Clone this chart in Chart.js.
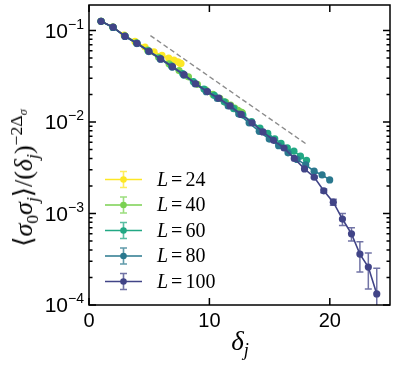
<!DOCTYPE html>
<html>
<head>
<meta charset="utf-8">
<script src="https://cdn.jsdelivr.net/npm/chart.js@4.4.1/dist/chart.umd.min.js"></script>
<style>
  html, body { margin: 0; padding: 0; background: #fff; }
  #wrap { position: relative; width: 398px; height: 367px; }
  canvas { display: block; }
  .ttl { position: absolute; font-family: 'Liberation Serif', 'DejaVu Serif', serif; white-space: nowrap; color: #000; line-height: 1; }
  .ttl sub, .ttl sup { font-size: 0.68em; line-height: 0; }
  #ytitle { left: 24px; top: 178px; font-size: 26px; transform: translate(-50%, -50%) rotate(-90deg); }
  #xtitle { left: 240px; top: 341px; font-size: 27px; transform: translate(-50%, -50%); }
</style>
</head>
<body>
<div id="wrap">
  <canvas id="chart" width="398" height="367"></canvas>
  <div id="ytitle" class="ttl">⟨<i>σ</i><sub>0</sub><i>σ</i><sub><i>j</i></sub>⟩/(<i>δ</i><sub><i>j</i></sub>)<sup>−2Δ<sub><i>σ</i></sub></sup></div>
  <div id="xtitle" class="ttl"><i>δ</i><sub><i>j</i></sub></div>
</div>
<script>
// Correlator vs chord distance, five system sizes

const sizes = [24, 40, 60, 80, 100];
const colors = ['#fde725', '#7ad151', '#22a884', '#2a788e', '#414487'];

const dL24 = [1.0, 1.98, 2.92, 3.82, 4.65, 5.4, 6.06, 6.62, 7.06, 7.38, 7.57, 7.64];
const vL24 = [0.126, 0.109, 0.089, 0.076, 0.066, 0.0585, 0.0535, 0.050, 0.0475, 0.0455, 0.0440, 0.0435];

const dL40 = [1.0, 1.99, 2.97, 3.93, 4.87, 5.78, 6.65, 7.48, 8.26, 9.0, 9.68, 10.3, 10.86, 11.34, 11.76, 12.1, 12.37, 12.57, 12.69, 12.73];
const vL40 = [0.126, 0.109, 0.087, 0.0735, 0.061, 0.051, 0.0432, 0.0365, 0.0312, 0.0258, 0.0224, 0.0200, 0.0181, 0.0165, 0.0153, 0.0142, 0.0134, 0.0129, 0.0127, 0.0126];

const dL60 = [1.0, 2.0, 2.99, 3.97, 4.94, 5.9, 6.85, 7.78, 8.67, 9.55, 10.41, 11.23, 12.02, 12.78, 13.5, 14.2, 14.85, 15.43, 15.95, 16.47, 17.02, 17.56, 18.07];
const vL60 = [0.126, 0.108, 0.087, 0.073, 0.0598, 0.0495, 0.041, 0.0338, 0.0276, 0.0229, 0.0195, 0.0166, 0.0140, 0.0119, 0.0101, 0.0086, 0.0075, 0.00656, 0.00583, 0.00522, 0.0048, 0.00423, 0.00382];

const dL80 = [1.0, 2.0, 2.99, 3.98, 4.97, 5.94, 6.91, 7.87, 8.81, 9.74, 10.66, 11.56, 12.44, 13.3, 14.14, 14.97, 15.75, 16.53, 17.28, 18.0, 18.7, 19.36, 19.99];
const vL80 = [0.126, 0.108, 0.086, 0.072, 0.0588, 0.0485, 0.0398, 0.0326, 0.0262, 0.0214, 0.0181, 0.0150, 0.0122, 0.0098, 0.0079, 0.0065, 0.0055, 0.0046, 0.0039, 0.0034, 0.0029, 0.00264, 0.00233];

const dL100 = [1.0, 2.0, 2.99, 3.99, 4.98, 5.96, 6.93, 7.9, 8.86, 9.84, 10.78, 11.72, 12.64, 13.55, 14.45, 15.33, 16.2, 17.05, 17.9, 18.71, 19.5, 20.29, 21.05, 21.8, 22.5, 23.2, 23.9];
const vL100 = [0.126, 0.109, 0.0866, 0.0726, 0.0593, 0.0489, 0.0402, 0.0330, 0.0262, 0.0215, 0.0182, 0.0150, 0.0121, 0.0098, 0.0078, 0.0063, 0.0052, 0.0040, 0.00307, 0.00249, 0.00177, 0.00133, 0.00087, 0.00060, 0.00036, 0.00026, 0.000132];
const eL100 = [0, 0, 0, 0, 0, 0, 0, 0, 0, 0, 0, 0, 0, 0, 0, 0, 0, 0, 0, 0.00006, 0.00008, 0.0001, 0.00013, 0.0001, 0.00013, 0.00011, 0.00012];

// dashed guide line
const guideX = [5.1, 18.0];
const guideY = [0.088, 0.0058];

const xTicks = [0, 10, 20];
const xTickLabels = ['0', '10', '20'];
const yTicks = [1e-4, 1e-3, 1e-2, 1e-1];
const yTickExp = ['−4', '−3', '−2', '−1'];

const seriesX = [dL24, dL40, dL60, dL80, dL100];
const seriesY = [vL24, vL40, vL60, vL80, vL100];
const seriesErr = [null, null, null, null, eL100];

function toPoints(xs, ys) {
  return xs.map((x, i) => ({ x: x, y: ys[i] }));
}

function withAlpha(hex, a) {
  const n = parseInt(hex.slice(1), 16);
  return `rgba(${(n >> 16) & 255}, ${(n >> 8) & 255}, ${n & 255}, ${a})`;
}

const datasets = sizes.map((L, i) => ({
  label: 'L = ' + L,
  data: toPoints(seriesX[i], seriesY[i]),
  borderColor: colors[i],
  backgroundColor: colors[i],
  borderWidth: 1.6,
  pointRadius: 3.6,
  pointBorderWidth: 0,
  pointBackgroundColor: colors[i],
  order: sizes.length - i
}));

datasets.push({
  label: 'guide',
  data: toPoints(guideX, guideY),
  borderColor: '#8c8c8c',
  borderWidth: 1.4,
  borderDash: [5, 3],
  pointRadius: 0,
  order: 10
});

const FONT_SANS = "'Liberation Sans', Arial, Helvetica, sans-serif";
const FONT_SERIF = "'Liberation Serif', 'DejaVu Serif', serif";

const framePlugin = {
  id: 'frame',
  beforeDatasetsDraw(chart) {
    // error bars
    const ctx = chart.ctx;
    const xs = chart.scales.x, ys = chart.scales.y;
    ctx.save();
    seriesErr.forEach((err, i) => {
      if (!err) return;
      ctx.strokeStyle = withAlpha(colors[i], 0.75);
      ctx.lineWidth = 1.5;
      err.forEach((e, k) => {
        if (!e) return;
        const px = xs.getPixelForValue(seriesX[i][k]);
        const lo = Math.max(seriesY[i][k] - e, ys.min * 0.5);
        const pTop = ys.getPixelForValue(seriesY[i][k] + e);
        const pBot = Math.min(ys.getPixelForValue(lo), chart.chartArea.bottom);
        ctx.beginPath();
        ctx.moveTo(px, pTop); ctx.lineTo(px, pBot);
        ctx.moveTo(px - 3.5, pTop); ctx.lineTo(px + 3.5, pTop);
        if (pBot < chart.chartArea.bottom) { ctx.moveTo(px - 3.5, pBot); ctx.lineTo(px + 3.5, pBot); }
        ctx.stroke();
      });
    });
    ctx.restore();
  },
  afterDraw(chart) {
    const ctx = chart.ctx;
    const a = chart.chartArea;
    const xs = chart.scales.x, ys = chart.scales.y;
    ctx.save();
    ctx.strokeStyle = '#000';
    ctx.fillStyle = '#000';
    ctx.lineWidth = 1.5;
    ctx.strokeRect(a.left, a.top, a.right - a.left, a.bottom - a.top);

    // x ticks (inward, both sides)
    ctx.beginPath();
    xTicks.forEach(t => {
      const px = xs.getPixelForValue(t);
      ctx.moveTo(px, a.bottom); ctx.lineTo(px, a.bottom - 7);
      ctx.moveTo(px, a.top); ctx.lineTo(px, a.top + 7);
    });
    // y ticks, major and minor
    yTicks.forEach(t => {
      for (let m = 1; m <= 9; m++) {
        const v = t * m;
        if (v < ys.min || v > ys.max) continue;
        const py = ys.getPixelForValue(v);
        const len = m === 1 ? 7 : 3.5;
        ctx.moveTo(a.left, py); ctx.lineTo(a.left + len, py);
        ctx.moveTo(a.right, py); ctx.lineTo(a.right - len, py);
      }
    });
    ctx.stroke();

    // x tick labels
    ctx.font = '20px ' + FONT_SANS;
    ctx.textAlign = 'center';
    ctx.textBaseline = 'alphabetic';
    xTicks.forEach((t, i) => {
      ctx.fillText(xTickLabels[i], xs.getPixelForValue(t), a.bottom + 22);
    });

    // y tick labels: 10 with superscript exponent
    ctx.textAlign = 'left';
    yTicks.forEach((t, i) => {
      const py = ys.getPixelForValue(t);
      ctx.font = '14px ' + FONT_SANS;
      const wSup = ctx.measureText(yTickExp[i]).width;
      ctx.font = '21px ' + FONT_SANS;
      const wBase = ctx.measureText('10').width;
      const xEnd = a.left - 5;
      ctx.fillText('10', xEnd - wSup - wBase, py + 7);
      ctx.font = '14px ' + FONT_SANS;
      ctx.fillText(yTickExp[i], xEnd - wSup, py - 2);
    });

    // legend
    const lx0 = 105, lx1 = 142, ly0 = 179.5, lstep = 25.5;
    sizes.forEach((L, i) => {
      const y = ly0 + i * lstep;
      const mx = (lx0 + lx1) / 2;
      ctx.strokeStyle = colors[i];
      ctx.lineWidth = 1.6;
      ctx.beginPath();
      ctx.moveTo(lx0, y); ctx.lineTo(lx1, y);
      ctx.stroke();
      ctx.strokeStyle = withAlpha(colors[i], 0.75);
      ctx.beginPath();
      ctx.moveTo(mx, y - 8); ctx.lineTo(mx, y + 8);
      ctx.moveTo(mx - 3.5, y - 8); ctx.lineTo(mx + 3.5, y - 8);
      ctx.moveTo(mx - 3.5, y + 8); ctx.lineTo(mx + 3.5, y + 8);
      ctx.stroke();
      ctx.fillStyle = colors[i];
      ctx.beginPath();
      ctx.arc(mx, y, 3.3, 0, Math.PI * 2);
      ctx.fill();

      ctx.fillStyle = '#000';
      ctx.textBaseline = 'middle';
      ctx.font = 'italic 20px ' + FONT_SERIF;
      ctx.fillText('L', 157, y + 1);
      const wL = ctx.measureText('L').width;
      ctx.font = '20px ' + FONT_SERIF;
      ctx.fillText('=', 157 + wL + 3, y + 1);
      const wEq = ctx.measureText('=').width;
      ctx.fillText(String(L), 157 + wL + wEq + 6, y + 1);
    });
    ctx.restore();
  }
};

new Chart(document.getElementById('chart'), {
  type: 'line',
  data: { datasets: datasets },
  options: {
    responsive: false,
    animation: false,
    devicePixelRatio: 1,
    layout: { padding: { left: 89, right: 8, top: 5, bottom: 62 } },
    scales: {
      x: {
        type: 'linear', min: 0, max: 25,
        ticks: { display: false },
        grid: { display: false, drawTicks: false },
        border: { display: false }
      },
      y: {
        type: 'logarithmic', min: 1e-4, max: 0.19,
        ticks: { display: false },
        grid: { display: false, drawTicks: false },
        border: { display: false }
      }
    },
    plugins: {
      legend: { display: false },
      tooltip: { enabled: false }
    }
  },
  plugins: [framePlugin]
});
</script>
</body>
</html>
